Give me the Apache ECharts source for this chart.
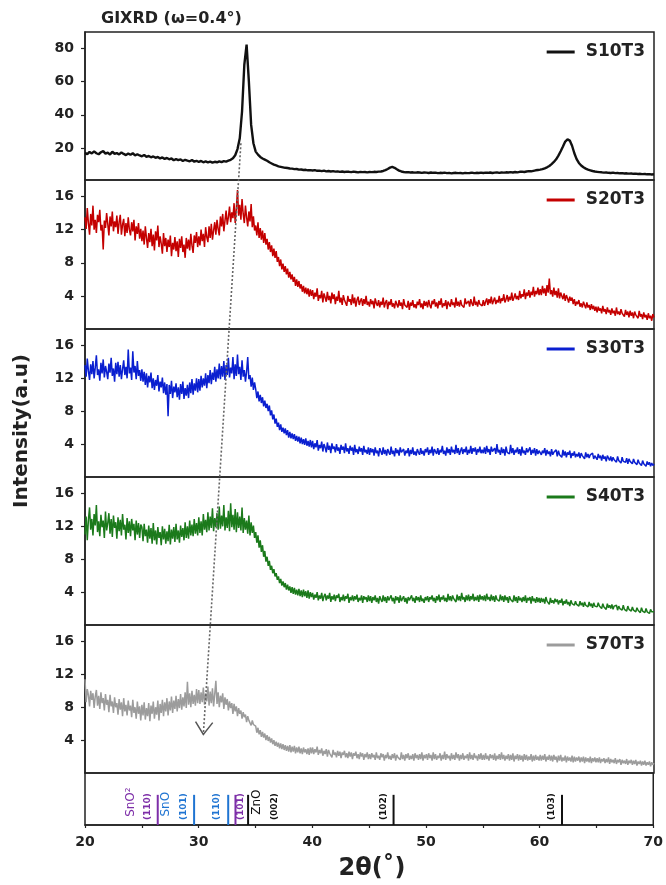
<!DOCTYPE html>
<html>
<head>
<meta charset="utf-8">
<title>GIXRD</title>
<script src="https://cdn.jsdelivr.net/npm/echarts@6/dist/echarts.min.js"></script>
<style>
  html, body { margin: 0; padding: 0; background: #fff; }
  #chart { width: 666px; height: 885px; }
</style>
</head>
<body>
<div id="chart"></div>
<script>
// Scan grids: 2θ from 20° to 70°
const THETA_START = 20;
const COARSE_STEP = 0.2;   // S10T3 (251 points)
const FINE_STEP = 0.1;     // amorphous-rich samples (501 points)

// Measured intensities (a.u.); S10T3 one row per 5°
const s10t3 = [
  17.2, 16.5, 17.8, 16.9, 18.1, 17.0, 16.4, 17.6, 18.3, 16.8, 17.4, 16.2, 17.9, 16.7, 17.1, 16.3, 17.5, 16.6, 15.9, 16.8, 16.1, 17.0, 15.8, 16.4, 15.7,
  15.2, 16.0, 14.9, 15.4, 14.6, 15.1, 14.3, 14.8, 13.9, 14.5, 13.6, 14.2, 13.4, 13.9, 12.8, 13.5, 12.9, 13.3, 12.4, 13.1, 12.6, 12.2, 12.9, 12.0, 12.5,
  11.8, 12.4, 11.6, 12.1, 11.5, 12.0, 11.4, 11.9, 11.6, 12.2, 11.7, 12.3, 12.0, 12.6, 13.1, 14.0, 15.8, 19.5, 26.0, 42.0, 70.0, 82.0, 60.0, 34.0, 23.0,
  18.0, 16.2, 14.8, 13.9, 13.2, 12.5, 11.6, 10.9, 10.2, 9.7, 9.2, 8.9, 8.6, 8.3, 8.2, 7.9, 7.8, 7.5, 7.6, 7.2, 7.3, 7.0, 7.1, 6.8, 6.9,
  6.7, 6.9, 6.5, 6.6, 6.3, 6.6, 6.2, 6.4, 6.1, 6.3, 6.0, 6.2, 5.9, 6.1, 5.8, 6.0, 5.9, 5.7, 6.0, 5.8, 5.6, 5.9, 5.7, 5.8, 5.6,
  5.8, 5.7, 5.9, 5.8, 6.0, 6.1, 6.4, 6.9, 7.6, 8.4, 8.8, 8.3, 7.4, 6.6, 6.1, 5.8, 5.6, 5.7, 5.5, 5.6, 5.4, 5.6, 5.5, 5.3, 5.5,
  5.4, 5.2, 5.5, 5.3, 5.4, 5.1, 5.3, 5.2, 5.4, 5.1, 5.3, 5.0, 5.2, 5.3, 5.1, 5.2, 5.0, 5.3, 5.1, 5.2, 5.4, 5.1, 5.3, 5.2, 5.4,
  5.2, 5.4, 5.3, 5.5, 5.2, 5.4, 5.6, 5.3, 5.5, 5.4, 5.6, 5.5, 5.7, 5.5, 5.8, 5.6, 5.9, 6.0, 5.8, 6.1, 6.3, 6.2, 6.5, 6.8, 7.0,
  7.2, 7.5, 8.0, 8.6, 9.4, 10.5, 11.8, 13.4, 15.6, 18.2, 21.0, 24.0, 25.3, 24.6, 21.5, 17.0, 13.5, 11.2, 9.7, 8.6, 7.8, 7.2, 6.8, 6.4, 6.1,
  5.9, 5.7, 5.6, 5.4, 5.5, 5.3, 5.2, 5.4, 5.1, 5.2, 5.0, 5.1, 4.9, 5.0, 4.8, 4.9, 4.7, 4.8, 4.6, 4.7, 4.5, 4.6, 4.4, 4.5, 4.3,
  4.4
];

// Fine-step samples: five lines of ten values per 5°
const s20t3 = [
  13.5, 12.1, 14.6, 12.8, 11.4, 13.9, 12.5, 14.9, 12.0, 13.2,
  11.6, 13.8, 12.9, 14.4, 11.9, 12.6, 9.6, 13.1, 12.2, 14.0,
  12.7, 11.3, 13.6, 12.4, 14.2, 11.8, 13.0, 12.3, 13.7, 11.5,
  12.9, 13.8, 11.4, 12.6, 13.3, 11.2, 12.8, 11.6, 13.5, 12.0,
  11.3, 12.9, 11.8, 13.2, 10.7, 12.4, 11.5, 12.8, 10.9, 12.1,

  10.6, 11.9, 10.2, 12.4, 11.0, 9.8, 11.6, 10.5, 12.1, 10.0,
  11.4, 9.5, 11.8, 10.7, 12.5, 9.9, 11.2, 10.3, 9.1, 11.6,
  10.0, 11.0, 9.3, 10.8, 9.9, 11.3, 8.8, 10.4, 9.6, 11.1,
  9.4, 10.6, 8.7, 10.9, 9.8, 11.2, 9.3, 10.2, 8.6, 11.0,
  9.7, 10.8, 9.5, 11.5, 10.1, 9.2, 11.3, 10.4, 11.7, 9.9,

  11.2, 10.1, 12.0, 10.6, 11.5, 9.9, 12.3, 11.1, 10.5, 12.4,
  11.0, 12.7, 10.8, 11.9, 12.9, 11.4, 13.2, 12.1, 11.3, 13.6,
  12.4, 13.9, 11.8, 13.1, 14.3, 12.6, 13.5, 14.8, 12.9, 14.1,
  13.4, 15.2, 12.8, 14.6, 16.8, 13.7, 15.0, 13.2, 15.7, 13.9,
  12.8, 14.9, 13.5, 12.4, 14.2, 13.0, 15.1, 12.3, 13.6, 11.9,

  12.5, 11.3, 12.9, 11.0, 12.2, 10.8, 11.9, 10.4, 11.6, 10.2,
  10.9, 9.6, 10.5, 9.3, 10.1, 8.8, 9.7, 8.6, 9.4, 8.1,
  8.7, 7.6, 8.4, 7.2, 7.9, 6.9, 7.6, 6.6, 7.3, 6.2,
  6.9, 6.0, 6.6, 5.7, 6.3, 5.2, 6.0, 5.1, 5.8, 4.9,
  5.4, 4.5, 5.2, 4.3, 5.0, 4.2, 4.9, 3.9, 4.8, 4.0,

  4.7, 3.6, 4.4, 3.9, 4.9, 3.4, 4.1, 3.7, 4.6, 3.2,
  4.3, 3.8, 3.3, 4.5, 3.5, 4.0, 3.1, 4.4, 3.6, 4.2,
  3.0, 3.9, 3.4, 4.6, 3.2, 3.8, 2.9, 4.1, 3.5, 3.7,
  2.8, 4.0, 3.3, 3.6, 2.9, 4.2, 3.1, 3.8, 2.7, 3.5,
  3.9, 2.9, 3.4, 3.7, 2.8, 3.6, 3.0, 4.0, 2.9, 3.3,

  2.7, 3.6, 3.0, 3.4, 2.5, 3.7, 3.1, 2.8, 3.5, 2.6,
  3.3, 2.9, 3.8, 2.6, 3.2, 3.5, 2.4, 3.3, 2.9, 3.6,
  2.7, 3.1, 2.5, 3.4, 3.0, 2.6, 3.5, 2.8, 3.2, 2.4,
  3.6, 2.9, 3.1, 2.6, 3.4, 2.3, 3.2, 2.8, 3.5, 2.6,
  3.0, 2.5, 3.3, 2.9, 3.6, 2.6, 3.1, 2.4, 3.4, 2.8,

  3.3, 2.6, 3.5, 2.9, 2.5, 3.4, 3.0, 3.6, 2.7, 3.2,
  2.5, 3.4, 2.9, 3.7, 2.6, 3.1, 2.8, 3.5, 2.4, 3.3,
  3.0, 2.7, 3.6, 2.9, 3.2, 2.6, 3.8, 2.8, 3.3, 2.7,
  3.5, 2.9, 3.1, 2.6, 3.7, 3.0, 2.8, 3.4, 2.7, 3.6,
  3.1, 2.8, 3.9, 2.9, 3.3, 2.7, 3.5, 3.0, 3.2, 2.8,

  3.5, 2.8, 3.3, 3.7, 2.9, 3.6, 3.1, 3.9, 3.0, 3.4,
  3.8, 3.0, 3.5, 3.2, 4.0, 3.1, 3.7, 3.4, 4.2, 3.2,
  3.6, 4.1, 3.3, 3.9, 3.5, 4.4, 3.4, 3.8, 4.3, 3.6,
  4.0, 3.5, 4.6, 3.7, 4.2, 3.9, 4.8, 3.6, 4.4, 4.0,
  4.7, 3.8, 4.5, 4.1, 5.1, 3.9, 4.6, 4.2, 5.0, 4.1,

  4.8, 4.1, 5.2, 4.3, 4.9, 4.0, 5.3, 4.4, 6.1, 4.2,
  4.7, 3.9, 5.0, 4.1, 4.6, 3.8, 4.9, 3.7, 4.4, 4.0,
  3.6, 4.3, 3.4, 4.1, 3.7, 3.2, 3.9, 3.4, 3.8, 3.0,
  3.6, 2.8, 3.3, 3.0, 3.5, 2.7, 3.1, 2.6, 3.3, 2.9,
  2.5, 3.2, 2.6, 2.9, 2.3, 3.0, 2.4, 2.8, 2.2, 2.7,

  2.0, 2.7, 2.2, 2.5, 1.9, 2.8, 2.1, 2.4, 1.8, 2.6,
  2.0, 2.3, 1.7, 2.5, 1.9, 2.2, 1.6, 2.6, 1.8, 2.1,
  1.7, 2.4, 1.9, 2.0, 1.5, 2.3, 1.7, 2.1, 1.4, 2.2,
  1.6, 2.0, 1.3, 2.1, 1.7, 1.9, 1.3, 2.2, 1.5, 1.8,
  1.2, 2.0, 1.4, 1.7, 1.1, 1.9, 1.3, 1.6, 1.0, 1.8,
  1.4
];

const s30t3 = [
  13.6, 12.2, 14.4, 12.9, 11.8, 13.7, 12.5, 14.1, 12.0, 13.3,
  14.8, 12.4, 13.1, 11.7, 13.9, 12.6, 14.3, 12.1, 13.5, 12.8,
  11.9, 13.8, 12.7, 14.5, 12.3, 13.2, 11.6, 13.9, 12.5, 14.0,
  12.2, 13.6, 11.9, 13.1, 14.2, 12.4, 13.4, 12.0, 15.5, 12.6,
  13.3, 11.8, 15.3, 12.7, 13.5, 11.9, 14.1, 12.3, 13.0, 11.7,

  13.1, 11.6, 12.8, 11.2, 12.6, 10.9, 12.3, 11.5, 12.7, 10.8,
  12.0, 10.6, 11.8, 11.1, 12.4, 10.4, 11.6, 10.9, 12.1, 10.2,
  11.5, 10.0, 11.3, 7.4, 11.2, 10.1, 11.7, 9.6, 11.0, 10.3,
  11.4, 9.7, 10.9, 9.4, 11.3, 10.1, 11.6, 9.5, 10.8, 9.9,
  11.2, 9.6, 11.5, 10.2, 11.9, 10.0, 11.4, 10.5, 12.0, 10.3,

  11.9, 10.5, 12.3, 10.9, 12.0, 11.1, 12.6, 10.8, 12.4, 11.4,
  13.0, 11.3, 12.7, 11.8, 13.4, 11.6, 13.1, 12.0, 13.8, 11.9,
  13.5, 12.2, 14.1, 11.8, 13.6, 12.4, 14.5, 12.1, 13.3, 12.6,
  14.6, 11.9, 13.7, 12.3, 14.9, 12.5, 13.4, 11.8, 14.2, 12.2,
  13.0, 11.6, 12.8, 14.6, 11.9, 12.4, 11.0, 12.1, 10.6, 11.5,

  10.7, 9.6, 10.4, 9.2, 10.0, 9.0, 9.7, 8.6, 9.3, 8.4,
  8.9, 8.0, 8.7, 7.5, 8.1, 7.0, 7.6, 6.5, 7.1, 6.1,
  6.6, 5.7, 6.4, 5.5, 6.0, 5.3, 5.9, 5.1, 5.7, 4.8,
  5.5, 4.7, 5.3, 4.6, 5.2, 4.4, 5.0, 4.3, 4.9, 4.1,
  4.8, 4.0, 4.6, 3.9, 4.7, 3.8, 4.4, 3.7, 4.5, 3.6,

  4.4, 3.4, 4.1, 3.6, 4.5, 3.2, 3.9, 3.5, 4.3, 3.1,
  4.0, 3.6, 3.0, 4.2, 3.3, 3.8, 2.9, 4.1, 3.4, 3.7,
  3.0, 4.0, 3.2, 3.6, 2.8, 3.9, 3.3, 3.7, 2.9, 4.1,
  3.1, 3.5, 2.8, 3.8, 3.2, 3.6, 2.7, 3.9, 3.0, 3.4,
  2.8, 3.7, 3.1, 3.5, 2.7, 3.8, 3.0, 3.3, 2.8, 3.6,

  2.7, 3.5, 3.0, 3.4, 2.6, 3.6, 2.9, 3.2, 2.5, 3.5,
  3.1, 2.7, 3.6, 2.8, 3.3, 2.6, 3.4, 3.0, 2.7, 3.7,
  2.8, 3.2, 2.5, 3.5, 2.9, 3.3, 2.6, 3.6, 3.0, 2.8,
  3.4, 2.6, 3.2, 2.9, 3.5, 2.5, 3.3, 2.8, 3.6, 2.7,
  3.1, 2.6, 3.4, 3.0, 2.7, 3.5, 2.8, 3.2, 2.6, 3.4,

  3.0, 3.6, 2.7, 3.3, 2.9, 3.7, 2.6, 3.4, 3.1, 2.8,
  3.5, 2.7, 3.3, 3.0, 3.8, 2.8, 3.2, 2.6, 3.6, 2.9,
  3.4, 2.7, 3.7, 3.0, 3.3, 2.8, 3.9, 2.9, 3.5, 2.7,
  3.2, 3.6, 2.8, 3.4, 3.0, 3.7, 2.7, 3.3, 2.9, 3.8,
  2.8, 3.5, 3.1, 3.6, 2.7, 3.4, 3.0, 3.7, 2.9, 3.3,

  2.9, 3.6, 2.8, 3.8, 3.0, 3.4, 2.7, 3.7, 3.1, 2.9,
  3.5, 2.8, 4.0, 3.0, 3.3, 2.7, 3.6, 2.9, 3.4, 2.6,
  3.7, 3.0, 3.2, 2.8, 3.9, 2.9, 3.5, 2.7, 3.3, 3.0,
  3.6, 2.8, 3.4, 2.6, 3.7, 2.9, 3.2, 2.7, 3.5, 3.0,
  2.8, 3.6, 2.7, 3.3, 2.9, 3.5, 2.6, 3.4, 2.8, 3.2,

  3.4, 2.7, 3.2, 2.9, 3.5, 2.6, 3.3, 2.8, 3.1, 2.5,
  3.4, 2.7, 3.0, 2.8, 3.3, 2.5, 3.2, 2.7, 2.9, 2.4,
  3.3, 2.6, 3.1, 2.4, 3.0, 2.7, 3.2, 2.3, 2.9, 2.6,
  3.1, 2.4, 2.8, 2.5, 3.0, 2.3, 2.9, 2.6, 2.7, 2.2,
  3.0, 2.4, 2.8, 2.3, 2.7, 2.5, 2.9, 2.2, 2.6, 2.4,

  2.1, 2.8, 2.3, 2.6, 2.0, 2.7, 2.2, 2.5, 1.9, 2.6,
  2.3, 2.0, 2.5, 1.9, 2.4, 2.1, 2.3, 1.8, 2.5, 2.0,
  2.2, 1.7, 2.4, 1.9, 2.1, 1.8, 2.3, 1.6, 2.2, 1.9,
  2.0, 1.6, 2.2, 1.8, 1.9, 1.5, 2.1, 1.7, 1.8, 1.4,
  2.0, 1.6, 1.7, 1.3, 1.9, 1.5, 1.8, 1.3, 1.7, 1.4,
  1.6
];

const s40t3 = [
  11.0, 13.2, 10.3, 12.8, 14.3, 11.6, 12.9, 10.9, 13.5, 12.1,
  14.6, 11.3, 12.6, 10.8, 13.4, 11.9, 12.7, 10.6, 13.8, 11.5,
  12.4, 13.6, 11.1, 12.9, 10.7, 13.3, 11.8, 12.5, 10.5, 13.1,
  11.4, 12.8, 10.9, 13.5, 11.6, 12.2, 10.4, 13.0, 11.2, 12.6,
  10.8, 12.9, 11.5, 12.3, 10.3, 12.7, 11.0, 12.4, 10.6, 12.2,

  11.9, 10.2, 12.3, 10.8, 11.6, 10.0, 12.1, 10.5, 11.8, 9.9,
  12.4, 10.3, 11.5, 9.8, 11.9, 10.6, 11.3, 9.7, 12.0, 10.4,
  11.7, 9.9, 11.4, 10.2, 12.2, 9.8, 11.6, 10.5, 11.9, 10.1,
  12.3, 10.4, 11.5, 10.0, 12.1, 10.7, 11.8, 10.3, 12.5, 10.6,
  12.0, 10.5, 12.7, 10.9, 12.2, 10.8, 12.9, 11.1, 12.4, 10.9,

  13.1, 11.2, 12.6, 10.9, 13.5, 11.6, 12.8, 11.3, 13.7, 11.5,
  13.2, 11.8, 14.2, 11.4, 13.0, 11.9, 13.6, 11.6, 14.4, 11.7,
  13.3, 12.0, 14.6, 11.5, 13.1, 11.8, 13.9, 11.4, 14.8, 11.9,
  13.4, 11.6, 14.1, 11.3, 13.7, 11.8, 13.2, 11.5, 14.3, 11.2,
  13.0, 11.6, 12.7, 11.1, 13.3, 10.9, 12.5, 11.2, 12.1, 10.6,

  11.3, 10.0, 10.9, 9.4, 10.3, 8.9, 9.7, 8.3, 9.0, 7.7,
  8.3, 7.2, 7.8, 6.7, 7.2, 6.3, 6.8, 5.9, 6.3, 5.5,
  5.9, 5.1, 5.6, 4.8, 5.3, 4.6, 5.1, 4.3, 4.9, 4.2,
  4.7, 3.9, 4.6, 3.8, 4.5, 3.7, 4.3, 3.6, 4.4, 3.5,
  4.2, 3.4, 4.3, 3.5, 4.1, 3.3, 4.2, 3.2, 4.0, 3.4,

  3.9, 3.1, 3.7, 3.3, 4.0, 3.0, 3.6, 3.2, 3.9, 2.9,
  3.5, 3.8, 3.0, 3.6, 3.2, 3.9, 2.8, 3.5, 3.1, 3.7,
  2.9, 3.6, 3.3, 3.8, 2.8, 3.4, 3.0, 3.7, 2.9, 3.5,
  3.2, 3.8, 2.7, 3.4, 3.0, 3.6, 2.9, 3.5, 3.1, 3.7,
  2.8, 3.3, 3.0, 3.6, 2.7, 3.5, 3.1, 3.4, 2.8, 3.6,

  2.9, 3.5, 2.7, 3.4, 3.0, 3.6, 2.8, 3.3, 2.6, 3.5,
  3.1, 2.8, 3.6, 2.9, 3.4, 2.7, 3.5, 3.0, 2.8, 3.6,
  2.9, 3.3, 2.6, 3.5, 3.0, 3.4, 2.7, 3.6, 2.9, 3.2,
  3.5, 2.8, 3.3, 2.6, 3.4, 3.0, 2.8, 3.6, 2.9, 3.3,
  2.7, 3.5, 3.0, 3.4, 2.8, 3.6, 2.9, 3.2, 2.7, 3.4,

  3.0, 3.5, 2.8, 3.4, 3.1, 3.6, 2.9, 3.3, 2.7, 3.5,
  3.0, 3.7, 2.8, 3.4, 3.1, 3.6, 2.9, 3.3, 2.8, 3.8,
  3.0, 3.5, 2.9, 3.6, 3.2, 3.4, 2.8, 3.7, 3.0, 3.5,
  2.9, 3.9, 3.1, 3.4, 2.8, 3.6, 3.0, 3.7, 2.9, 3.5,
  3.1, 3.8, 2.9, 3.4, 3.0, 3.6, 2.8, 3.7, 3.1, 3.5,

  3.0, 3.6, 2.9, 3.8, 3.1, 3.4, 2.9, 3.7, 3.0, 3.5,
  2.8, 3.6, 3.1, 3.3, 2.9, 3.7, 3.0, 3.5, 2.8, 3.6,
  3.0, 3.4, 2.7, 3.5, 3.1, 3.3, 2.8, 3.6, 2.9, 3.4,
  2.7, 3.5, 3.0, 3.3, 2.8, 3.4, 2.9, 3.6, 2.7, 3.3,
  3.0, 3.4, 2.6, 3.5, 2.9, 3.2, 2.7, 3.4, 2.8, 3.3,

  2.7, 3.3, 2.8, 3.2, 2.6, 3.4, 2.9, 3.1, 2.5, 3.3,
  2.7, 3.0, 2.6, 3.2, 2.8, 3.1, 2.5, 3.0, 2.7, 3.2,
  2.4, 2.9, 2.6, 3.1, 2.5, 2.8, 2.3, 3.0, 2.6, 2.8,
  2.4, 2.9, 2.5, 2.7, 2.3, 2.9, 2.4, 2.7, 2.2, 2.8,
  2.4, 2.6, 2.2, 2.8, 2.3, 2.6, 2.1, 2.7, 2.3, 2.5,

  2.2, 2.7, 2.3, 2.5, 2.0, 2.6, 2.2, 2.4, 1.9, 2.6,
  2.1, 2.4, 2.0, 2.5, 1.9, 2.3, 2.1, 2.4, 1.8, 2.3,
  2.0, 2.2, 1.8, 2.4, 1.9, 2.1, 1.7, 2.3, 1.9, 2.0,
  1.7, 2.2, 1.8, 2.0, 1.6, 2.1, 1.8, 1.9, 1.5, 2.1,
  1.7, 1.9, 1.5, 2.0, 1.6, 1.8, 1.4, 1.9, 1.6, 1.7,
  1.6
];

const s70t3 = [
  11.4, 8.6, 10.2, 9.5, 8.1, 10.0, 8.9, 9.7, 7.9, 9.3,
  10.1, 8.2, 9.4, 7.8, 9.8, 8.5, 9.1, 7.6, 9.6, 8.3,
  8.9, 7.4, 9.5, 8.1, 8.7, 7.3, 9.2, 8.0, 8.5, 7.1,
  9.0, 7.7, 8.6, 6.9, 9.1, 7.5, 8.3, 7.0, 8.8, 7.6,
  8.2, 6.8, 8.9, 7.3, 8.0, 6.6, 8.7, 7.2, 8.1, 6.4,

  8.3, 7.0, 8.6, 6.5, 7.9, 6.9, 8.5, 6.3, 8.2, 7.2,
  8.7, 6.6, 8.0, 7.1, 8.8, 6.4, 8.4, 7.3, 8.9, 6.9,
  8.6, 7.5, 9.1, 7.0, 8.7, 7.6, 9.3, 7.3, 8.8, 7.8,
  9.4, 7.5, 9.0, 7.9, 9.6, 7.7, 9.2, 8.1, 9.8, 7.9,
  11.1, 8.3, 9.7, 8.0, 10.0, 8.4, 9.5, 8.2, 10.2, 8.5,

  10.1, 8.4, 9.8, 8.6, 10.4, 8.3, 9.7, 8.7, 10.5, 8.2,
  9.9, 8.5, 10.3, 8.1, 9.6, 11.2, 8.4, 9.8, 8.0, 9.4,
  8.6, 9.7, 7.8, 9.2, 8.3, 9.0, 7.6, 8.7, 7.9, 8.5,
  7.2, 8.4, 7.5, 8.1, 6.9, 7.9, 7.2, 7.6, 6.6, 7.4,
  6.8, 7.1, 6.2, 6.9, 6.4, 6.6, 5.8, 6.4, 5.9, 6.1,

  5.7, 4.9, 5.5, 4.7, 5.2, 4.4, 5.0, 4.3, 4.8, 4.0,
  4.6, 3.9, 4.4, 3.7, 4.2, 3.5, 4.0, 3.3, 3.8, 3.2,
  3.7, 3.0, 3.6, 2.9, 3.5, 2.8, 3.4, 2.7, 3.3, 2.6,
  3.4, 2.5, 3.2, 2.6, 3.3, 2.4, 3.1, 2.5, 3.2, 2.4,
  3.0, 2.3, 3.1, 2.5, 2.9, 2.3, 3.0, 2.2, 3.1, 2.4,

  3.1, 2.3, 2.9, 2.5, 3.2, 2.2, 2.8, 2.4, 3.0, 2.1,
  2.7, 2.3, 2.9, 2.0, 2.8, 2.4, 2.6, 1.9, 2.8, 2.2,
  2.5, 1.9, 2.7, 2.1, 2.6, 1.8, 2.5, 2.2, 2.7, 1.9,
  2.4, 1.8, 2.6, 2.0, 2.5, 1.7, 2.4, 2.1, 2.6, 1.8,
  2.3, 1.7, 2.5, 2.0, 2.4, 1.6, 2.3, 1.9, 2.5, 1.7,

  2.3, 1.7, 2.4, 1.9, 2.2, 1.6, 2.5, 1.8, 2.1, 1.6,
  2.4, 1.9, 2.3, 1.5, 2.2, 1.8, 2.5, 1.7, 2.1, 1.6,
  2.3, 1.8, 2.4, 1.5, 2.2, 1.9, 2.1, 1.6, 2.5, 1.7,
  2.2, 1.5, 2.3, 1.8, 2.4, 1.6, 2.1, 1.7, 2.3, 1.5,
  2.4, 1.8, 2.2, 1.6, 2.3, 1.7, 2.5, 1.5, 2.2, 1.8,

  2.3, 1.6, 2.4, 1.8, 2.2, 1.5, 2.5, 1.7, 2.3, 1.6,
  2.1, 1.8, 2.4, 1.5, 2.2, 1.7, 2.6, 1.6, 2.3, 1.8,
  2.1, 1.5, 2.4, 1.7, 2.2, 1.6, 2.5, 1.8, 2.3, 1.5,
  2.2, 1.7, 2.4, 1.6, 2.1, 1.8, 2.3, 1.5, 2.5, 1.7,
  2.2, 1.6, 2.4, 1.8, 2.1, 1.5, 2.3, 1.7, 2.4, 1.6,

  2.2, 1.6, 2.4, 1.7, 2.1, 1.5, 2.3, 1.8, 2.2, 1.6,
  2.4, 1.5, 2.1, 1.7, 2.3, 1.6, 2.5, 1.7, 2.2, 1.5,
  2.1, 1.7, 2.3, 1.5, 2.2, 1.6, 2.4, 1.4, 2.1, 1.7,
  2.3, 1.5, 2.2, 1.6, 2.1, 1.4, 2.3, 1.6, 2.2, 1.5,
  2.0, 1.6, 2.3, 1.4, 2.1, 1.5, 2.2, 1.6, 2.0, 1.5,

  2.2, 1.5, 2.1, 1.6, 2.3, 1.4, 2.0, 1.6, 2.2, 1.5,
  2.1, 1.4, 2.2, 1.6, 2.0, 1.3, 2.1, 1.5, 2.2, 1.4,
  1.9, 1.5, 2.1, 1.3, 2.0, 1.5, 1.9, 1.4, 2.1, 1.3,
  2.0, 1.4, 1.9, 1.5, 2.0, 1.3, 1.9, 1.4, 2.0, 1.2,
  1.9, 1.4, 1.8, 1.3, 2.0, 1.2, 1.8, 1.4, 1.9, 1.3,

  1.8, 1.3, 1.9, 1.2, 1.7, 1.4, 1.8, 1.2, 1.7, 1.3,
  1.9, 1.1, 1.7, 1.3, 1.6, 1.2, 1.8, 1.1, 1.6, 1.3,
  1.7, 1.0, 1.6, 1.2, 1.5, 1.1, 1.7, 1.0, 1.5, 1.2,
  1.6, 1.0, 1.5, 1.1, 1.6, 0.9, 1.4, 1.1, 1.5, 0.9,
  1.4, 1.0, 1.5, 0.9, 1.3, 1.0, 1.4, 0.8, 1.3, 1.0,
  1.2
];

// Sample names and their panel colours
const sampleNames = ['S10T3', 'S20T3', 'S30T3', 'S40T3', 'S70T3'];
const sampleData = [s10t3, s20t3, s30t3, s40t3, s70t3];
const sampleSteps = [COARSE_STEP, FINE_STEP, FINE_STEP, FINE_STEP, FINE_STEP];
const sampleColors = ['#111111', '#c40000', '#0a1fd0', '#1b7a1b', '#9c9c9c'];

// Y ranges and tick labels per panel
const yMin = [1, 0, 0, 0, 0];
const yMax = [89.6, 18, 18, 18, 18];
const yTicks = [[20, 40, 60, 80], [4, 8, 12, 16], [4, 8, 12, 16], [4, 8, 12, 16], [4, 8, 12, 16]];
const xTickLabels = [20, 30, 40, 50, 60, 70];
const xTickMarks = [20, 25, 30, 35, 40, 45, 50, 55, 60, 65, 70];

// Reference reflections (2θ, phase, Miller indices, label anchor)
const refAngles = [26.4, 29.6, 32.6, 33.24, 34.35, 47.15, 61.97];
const refPhases = ['SnO2', 'SnO', 'SnO', 'SnO2', 'ZnO', 'ZnO', 'ZnO'];
const refHkl = ['(110)', '(101)', '(110)', '(101)', '(002)', '(102)', '(103)'];
const refHklAt = [25.5, 28.7, 31.6, 33.68, 36.7, 46.3, 61.1];
const phaseNames = ['SnO\u00B2', 'SnO', 'ZnO'];
const phaseKeys = ['SnO2', 'SnO', 'ZnO'];
const phaseNameAt = [24.0, 27.1, 35.1];

// Peak-shift guide: from the S10T3 (002) peak down to the S70T3 hump
const shiftFrom = [33.7, 23.0];
const shiftTo = [30.4, 4.7];

// ---- layout / style ----
const FONT = 'DejaVu Sans';
const INK = '#222';
const phaseColor = { SnO2: '#7d2ea8', SnO: '#1f74d2', ZnO: '#111111' };
const panelTops = [32, 180, 329, 477, 625, 773];
const panelHeights = [148, 149, 148, 148, 148, 52];
const GRID_LEFT = 85, GRID_RIGHT = 12;

const grids = panelTops.map((t, i) => ({
  left: GRID_LEFT, right: GRID_RIGHT, top: t, height: panelHeights[i],
  show: true, borderColor: INK, borderWidth: 1.5, backgroundColor: 'transparent'
}));

const xAxes = panelTops.map((_, i) => {
  const bottom = i === 5;
  return {
    gridIndex: i, type: 'value', min: 20, max: 70, interval: 5,
    axisLine: { show: bottom, lineStyle: { color: INK, width: 1.5 } },
    axisTick: { show: bottom, length: 3, customValues: xTickMarks, lineStyle: { color: INK, width: 1.2 } },
    axisLabel: {
      show: bottom, customValues: xTickLabels, margin: 10,
      fontFamily: FONT, fontWeight: 'bold', fontSize: 14, color: INK
    },
    splitLine: { show: false }
  };
});

const yAxes = panelTops.map((_, i) => {
  if (i === 5) {
    return { gridIndex: 5, type: 'value', min: 0, max: 1, show: false };
  }
  return {
    gridIndex: i, type: 'value', min: yMin[i], max: yMax[i],
    axisLine: { show: true, lineStyle: { color: INK, width: 1.5 } },
    axisTick: { show: true, length: 4, customValues: yTicks[i], lineStyle: { color: INK, width: 1.2 } },
    axisLabel: {
      customValues: yTicks[i], margin: 11,
      fontFamily: FONT, fontWeight: 'bold', fontSize: 14, color: INK
    },
    splitLine: { show: false }
  };
});

const patternSeries = sampleData.map((vals, i) => ({
  name: sampleNames[i], type: 'line', xAxisIndex: i, yAxisIndex: i,
  data: vals.map((v, k) => [+(THETA_START + k * sampleSteps[i]).toFixed(1), v]),
  showSymbol: false, symbol: 'none', sampling: 'none',
  lineStyle: { color: sampleColors[i], width: i === 0 ? 2.4 : 1.5, join: 'bevel' },
  itemStyle: { color: sampleColors[i] },
  emphasis: { disabled: true }, silent: true, z: 2
}));

const LINE_TOP = 0.58;      // reference line height within the bottom panel
const HKL_Y = 0.355;        // centre of Miller-index labels
const PHASE_Y = [0.44, 0.40, 0.44];

const refLineSeries = {
  type: 'custom', xAxisIndex: 5, yAxisIndex: 5, silent: true,
  data: refAngles.map((a, i) => [a, i]),
  renderItem: (params, api) => {
    const idx = api.value(1);
    const top = api.coord([api.value(0), LINE_TOP]);
    const bot = api.coord([api.value(0), 0]);
    return {
      type: 'line',
      shape: { x1: top[0], y1: top[1], x2: bot[0], y2: bot[1] },
      style: { stroke: phaseColor[refPhases[idx]], lineWidth: 2 }
    };
  }
};

const hklLabelSeries = {
  type: 'custom', xAxisIndex: 5, yAxisIndex: 5, silent: true,
  data: refHklAt.map((a, i) => [a, i]),
  renderItem: (params, api) => {
    const idx = api.value(1);
    const p = api.coord([api.value(0), HKL_Y]);
    return {
      type: 'text', x: p[0], y: p[1], rotation: Math.PI / 2,
      style: {
        text: refHkl[idx], fill: phaseColor[refPhases[idx]],
        font: 'bold 9px ' + FONT, align: 'center', verticalAlign: 'middle'
      }
    };
  }
};

const phaseLabelSeries = {
  type: 'custom', xAxisIndex: 5, yAxisIndex: 5, silent: true,
  data: phaseNameAt.map((a, i) => [a, i]),
  renderItem: (params, api) => {
    const idx = api.value(1);
    const p = api.coord([api.value(0), PHASE_Y[idx]]);
    return {
      type: 'text', x: p[0], y: p[1], rotation: Math.PI / 2,
      style: {
        text: phaseNames[idx], fill: phaseColor[phaseKeys[idx]],
        font: '12px ' + FONT, align: 'center', verticalAlign: 'middle'
      }
    };
  }
};

const legends = sampleNames.map((n, i) => ({
  data: [n], right: 21, top: panelTops[i] + 10, padding: 0,
  icon: 'rect', itemWidth: 28, itemHeight: 3, selectedMode: false,
  textStyle: {
    fontFamily: FONT, fontWeight: 'bold', fontSize: 17, color: INK,
    lineHeight: 20, padding: [0, 0, 0, 6]
  }
}));

const option = {
  animation: false,
  backgroundColor: '#fff',
  title: {
    text: 'GIXRD (\u03C9=0.4\u00B0)', left: 96, top: 6,
    textStyle: { fontFamily: FONT, fontWeight: 'bold', fontSize: 16, color: INK }
  },
  legend: legends,
  grid: grids,
  xAxis: xAxes,
  yAxis: yAxes,
  series: [...patternSeries, refLineSeries, hklLabelSeries, phaseLabelSeries],
  graphic: [
    {
      id: 'yname', type: 'text', x: 22, y: 431, rotation: Math.PI / 2,
      style: {
        text: 'Intensity(a.u)', fill: INK, font: 'bold 20px ' + FONT,
        align: 'center', verticalAlign: 'middle'
      }
    },
    {
      id: 'xname', type: 'text', x: 372, y: 869,
      style: {
        text: '2\u03B8(\u02DA)', fill: INK, font: 'bold 24px ' + FONT,
        align: 'center', verticalAlign: 'middle'
      }
    }
  ]
};

const chart = echarts.init(document.getElementById('chart'), null, { renderer: 'canvas' });
chart.setOption(option);

// Dotted guide with an open arrow head, placed through the axes' own scales
const p0 = chart.convertToPixel({ xAxisIndex: 0, yAxisIndex: 0 }, shiftFrom);
const p1 = chart.convertToPixel({ xAxisIndex: 4, yAxisIndex: 4 }, shiftTo);
const dx = p1[0] - p0[0], dy = p1[1] - p0[1];
const len = Math.hypot(dx, dy);
const ux = dx / len, uy = dy / len;
const HEAD = 15, SPREAD = 35 * Math.PI / 180;
function arm(sign) {
  const c = Math.cos(sign * SPREAD), s = Math.sin(sign * SPREAD);
  const bx = -ux, by = -uy;
  return [p1[0] + HEAD * (bx * c - by * s), p1[1] + HEAD * (bx * s + by * c)];
}
chart.setOption({
  graphic: [
    {
      id: 'guide', type: 'line', z: 50, silent: true,
      shape: { x1: p0[0], y1: p0[1], x2: p1[0], y2: p1[1] },
      style: { stroke: '#666', lineWidth: 1.6, lineDash: [2, 2] }
    },
    {
      id: 'guideHead', type: 'polyline', z: 50, silent: true,
      shape: { points: [arm(1), p1, arm(-1)] },
      style: { stroke: '#555', lineWidth: 1.5, fill: null }
    }
  ]
});
</script>
</body>
</html>
